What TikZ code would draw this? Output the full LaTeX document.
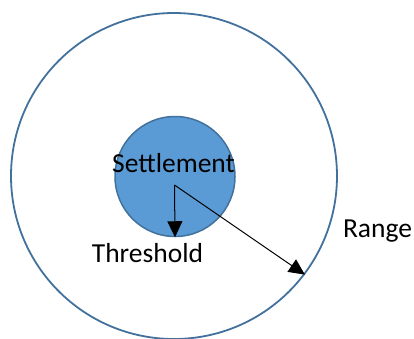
\documentclass[tikz,border=0pt]{standalone}
\usepackage{fontspec}
\setmainfont{Carlito}
\usetikzlibrary{arrows.meta}
\definecolor{ringblue}{HTML}{41719C}
\definecolor{coreblue}{HTML}{5B9BD5}
\tikzset{
  zone/.style={circle, draw=ringblue, line width=1.8pt, inner sep=0pt},
  label text/.style={anchor=base, inner sep=0pt, font=\fontsize{27.5}{33}\selectfont},
  radius arrow/.style={draw=black, line width=1pt, -{Triangle[length=16pt,width=15pt]}}
}
\begin{document}
\begin{tikzpicture}[x=1pt, y=-1pt]
  \useasboundingbox (0,0) rectangle (414,338);
  % outer range circle and settlement core
  \node[zone, minimum size=326pt] (range) at (174,176) {};
  \node[zone, fill=coreblue, line width=1.5pt, minimum size=120pt] (core) at (175,176.5) {};
  % labels
  \node[label text] (settle) at (173.5,172.7) {Settlement};
  \node[label text] (thresh) at (147.5,262.7) {Threshold};
  \node[label text] (rlabel) at (377.5,237.3) {Range};
  % radii
  \coordinate (o) at (174.5,185);
  \draw[radius arrow] (o) -- (core.south);
  \draw[radius arrow] (o) -- (range.-37.4);
\end{tikzpicture}
\end{document}
